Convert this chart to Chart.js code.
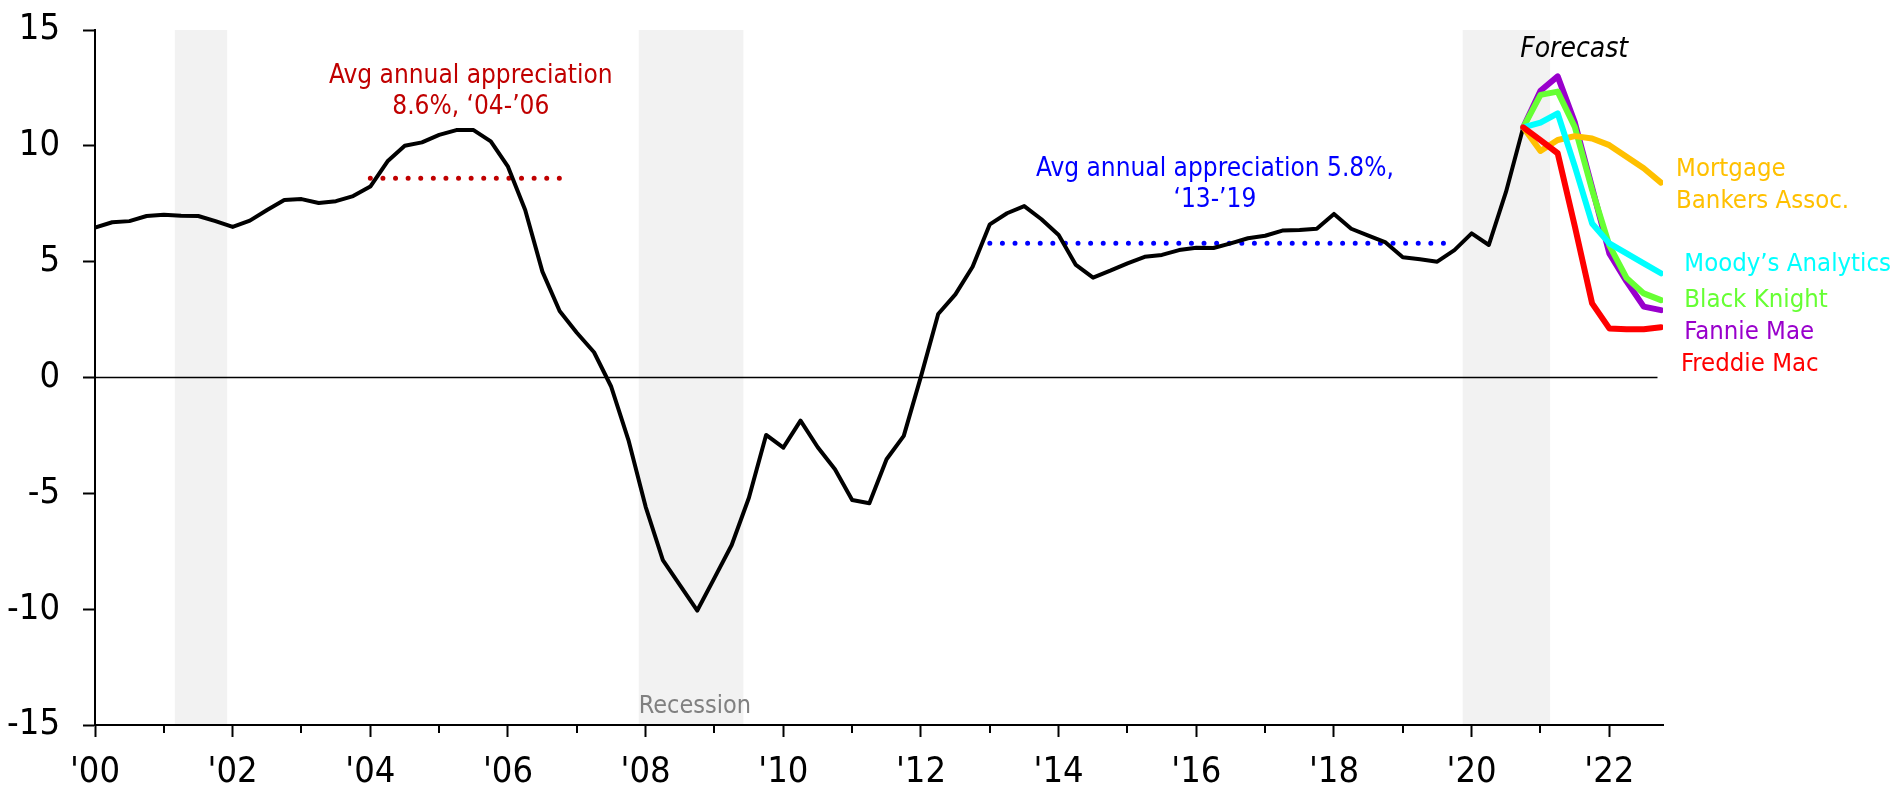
<!DOCTYPE html>
<html>
<head>
<meta charset="utf-8">
<script src="https://cdn.jsdelivr.net/npm/chart.js@4.4.0/dist/chart.umd.min.js"></script>
<style>
    html, body { margin: 0; padding: 0; background: #fff; }
    canvas { display: block; }
</style>
</head>
<body>
<canvas id="hpa-chart" width="1901" height="800"></canvas>
<script>
// house price appreciation, % y/y, quarterly
const quarters = [];
for (let yr = 2000; yr <= 2020; yr++) {
    for (let q = 0; q < 4; q++) quarters.push(yr + q / 4);
}
const history = [
    6.47, 6.70, 6.75, 6.97, 7.03, 6.98, 6.97, 6.75,
    6.50, 6.77, 7.23, 7.66, 7.70, 7.53, 7.61, 7.83,
    8.24, 9.33, 10.0, 10.15, 10.47, 10.68, 10.68, 10.19,
    9.10, 7.23, 4.57, 2.87, 1.93, 1.09, -0.40, -2.70,
    -5.58, -7.88, -8.97, -10.06, -8.65, -7.23, -5.19, -2.48,
    -3.03, -1.86, -3.01, -3.96, -5.29, -5.43, -3.53, -2.52,
    0.05, 2.74, 3.59, 4.78, 6.61, 7.09, 7.40, 6.83,
    6.15, 4.86, 4.31, 4.61, 4.93, 5.21, 5.29, 5.50,
    5.60, 5.59, 5.79, 6.01, 6.12, 6.34, 6.37, 6.42,
    7.06, 6.42, 6.12, 5.83, 5.19, 5.10, 5.00, 5.50,
    6.22, 5.72, 8.02, 10.80
];

const forecastQuarters = [2020.75, 2021, 2021.25, 2021.5, 2021.75, 2022, 2022.25, 2022.5, 2022.75];
const mba = [10.8, 9.78, 10.25, 10.42, 10.32, 10.03, 9.53, 9.03, 8.41];
const moodys = [10.8, 11.0, 11.4, 9.1, 6.65, 5.79, 5.36, 4.93, 4.5];
const blackKnight = [10.8, 12.2, 12.34, 10.8, 8.1, 5.7, 4.3, 3.63, 3.34];
const fannieMae = [10.8, 12.38, 13.0, 11.0, 8.2, 5.36, 4.15, 3.06, 2.91];
const freddieMac = [10.8, 10.25, 9.68, 6.51, 3.2, 2.12, 2.08, 2.08, 2.17];

const avg0406 = { from: 2004, to: 2006.75, value: 8.6 };
const avg1319 = { from: 2013, to: 2019.7, value: 5.8 };

const recessions = [[2001.16, 2001.92], [2007.9, 2009.42], [2019.87, 2021.14]];

const tickYears = [];
for (let yr = 2000; yr <= 2022; yr++) tickYears.push(yr);
const tickLabels = ["'00", "", "'02", "", "'04", "", "'06", "", "'08", "", "'10", "", "'12", "",
    "'14", "", "'16", "", "'18", "", "'20", "", "'22"];

const FONT = "'DejaVu Sans Condensed', 'DejaVu Sans', sans-serif";

// text placed in data coordinates
const notes = [
    { text: 'Avg annual appreciation', x: 2005.46, y: 12.70, color: '#c00000', size: 26, align: 'center' },
    { text: '8.6%, \u201804-\u201906', x: 2005.46, y: 11.36, color: '#c00000', size: 26, align: 'center' },
    { text: 'Avg annual appreciation 5.8%,', x: 2016.27, y: 8.71, color: '#0000ff', size: 26, align: 'center' },
    { text: '\u201813-\u201919', x: 2016.27, y: 7.35, color: '#0000ff', size: 26, align: 'center' },
    { text: 'Forecast', x: 2021.49, y: 13.85, color: '#000', size: 28, align: 'center', italic: true },
    { text: 'Recession', x: 2007.9, y: -14.49, color: '#808080', size: 25, align: 'left' },
    { text: 'Mortgage', x: 2022.97, y: 8.70, color: '#ffc000', size: 25.5, align: 'left' },
    { text: 'Bankers Assoc.', x: 2022.97, y: 7.33, color: '#ffc000', size: 25.5, align: 'left' },
    { text: 'Moody\u2019s Analytics', x: 2023.09, y: 4.60, color: '#00ffff', size: 25.5, align: 'left' },
    { text: 'Black Knight', x: 2023.09, y: 3.03, color: '#66ff33', size: 25.5, align: 'left' },
    { text: 'Fannie Mae', x: 2023.09, y: 1.68, color: '#9900cc', size: 25.5, align: 'left' },
    { text: 'Freddie Mac', x: 2023.04, y: 0.28, color: '#ff0000', size: 25.5, align: 'left' }
];

function forecastSet(values, color, order) {
    return {
        data: values.map((v, i) => ({ x: forecastQuarters[i], y: v })),
        borderColor: color,
        borderWidth: 6,
        borderJoinStyle: 'round',
        borderCapStyle: 'round',
        pointRadius: 0,
        order: order
    };
}

function avgSet(avg, color) {
    return {
        data: [{ x: avg.from, y: avg.value }, { x: avg.to, y: avg.value }],
        borderColor: color,
        borderWidth: 5,
        borderDash: [0, 12.6],
        borderCapStyle: 'round',
        pointRadius: 0,
        order: 7
    };
}

const shadePlugin = {
    id: 'shade',
    beforeDraw(chart) {
        const { ctx, chartArea, scales } = chart;
        ctx.save();
        ctx.fillStyle = '#f2f2f2';
        for (const [a, b] of recessions) {
            const x1 = scales.x.getPixelForValue(a);
            const x2 = scales.x.getPixelForValue(b);
            ctx.fillRect(x1, chartArea.top, x2 - x1, chartArea.bottom - chartArea.top);
        }
        ctx.restore();
    }
};

const minorTickPlugin = {
    id: 'minorTicks',
    afterDraw(chart) {
        const { ctx, chartArea, scales } = chart;
        ctx.save();
        ctx.strokeStyle = '#000';
        ctx.lineWidth = 2;
        for (const yr of tickYears) {
            if (yr % 2 === 0) continue;
            const x = Math.round(scales.x.getPixelForValue(yr));
            ctx.beginPath();
            ctx.moveTo(x, chartArea.bottom);
            ctx.lineTo(x, chartArea.bottom + 8);
            ctx.stroke();
        }
        ctx.restore();
    }
};

const notesPlugin = {
    id: 'notes',
    afterDatasetsDraw(chart) {
        const { ctx, scales } = chart;
        ctx.save();
        ctx.textBaseline = 'alphabetic';
        for (const n of notes) {
            ctx.font = (n.italic ? 'italic ' : '') + n.size + 'px ' + FONT;
            ctx.fillStyle = n.color;
            ctx.textAlign = n.align;
            ctx.fillText(n.text, scales.x.getPixelForValue(n.x), scales.y.getPixelForValue(n.y));
        }
        ctx.restore();
    }
};

Chart.defaults.font.family = FONT;
Chart.defaults.color = '#000';

new Chart(document.getElementById('hpa-chart'), {
    type: 'line',
    data: {
        datasets: [
            forecastSet(freddieMac, '#ff0000', 1),
            forecastSet(moodys, '#00ffff', 2),
            forecastSet(mba, '#ffc000', 3),
            forecastSet(blackKnight, '#66ff33', 4),
            forecastSet(fannieMae, '#9900cc', 5),
            {
                data: history.map((v, i) => ({ x: quarters[i], y: v })),
                borderColor: '#000',
                borderWidth: 4,
                borderJoinStyle: 'round',
                pointRadius: 0,
                order: 6
            },
            avgSet(avg0406, '#c00000'),
            avgSet(avg1319, '#0000ff'),
            {
                data: [{ x: 2000, y: 0 }, { x: 2022.7, y: 0 }],
                borderColor: '#000',
                borderWidth: 1.6,
                pointRadius: 0,
                order: 8
            }
        ]
    },
    options: {
        responsive: false,
        animation: false,
        events: [],
        layout: { padding: { top: 30, right: 238, bottom: 0, left: 0 } },
        plugins: {
            legend: { display: false },
            tooltip: { enabled: false }
        },
        scales: {
            x: {
                type: 'linear',
                min: 2000,
                max: 2022.78,
                afterFit(scale) {
                    scale.height = 75;
                    scale.paddingLeft = 0;
                    scale.paddingRight = 0;
                },
                afterBuildTicks(scale) { scale.ticks = tickYears.map(v => ({ value: v })); },
                grid: {
                    drawOnChartArea: false,
                    tickLength: 12,
                    tickWidth: 2,
                    tickColor: ctx => (ctx.tick && ctx.tick.value % 2 === 0) ? '#000' : 'rgba(0,0,0,0)'
                },
                border: { color: '#000', width: 2 },
                ticks: {
                    autoSkip: false,
                    maxRotation: 0,
                    padding: 14,
                    font: { size: 36 },
                    callback: (value, index) => tickLabels[index]
                }
            },
            y: {
                min: -15,
                max: 15,
                afterFit(scale) {
                    scale.width = 95;
                    scale.paddingTop = 0;
                    scale.paddingBottom = 0;
                },
                grid: {
                    drawOnChartArea: false,
                    tickLength: 12,
                    tickWidth: 2,
                    tickColor: '#000'
                },
                border: { color: '#000', width: 2 },
                ticks: {
                    stepSize: 5,
                    padding: 23,
                    font: { size: 36 }
                }
            }
        }
    },
    plugins: [shadePlugin, minorTickPlugin, notesPlugin]
});
</script>
</body>
</html>
